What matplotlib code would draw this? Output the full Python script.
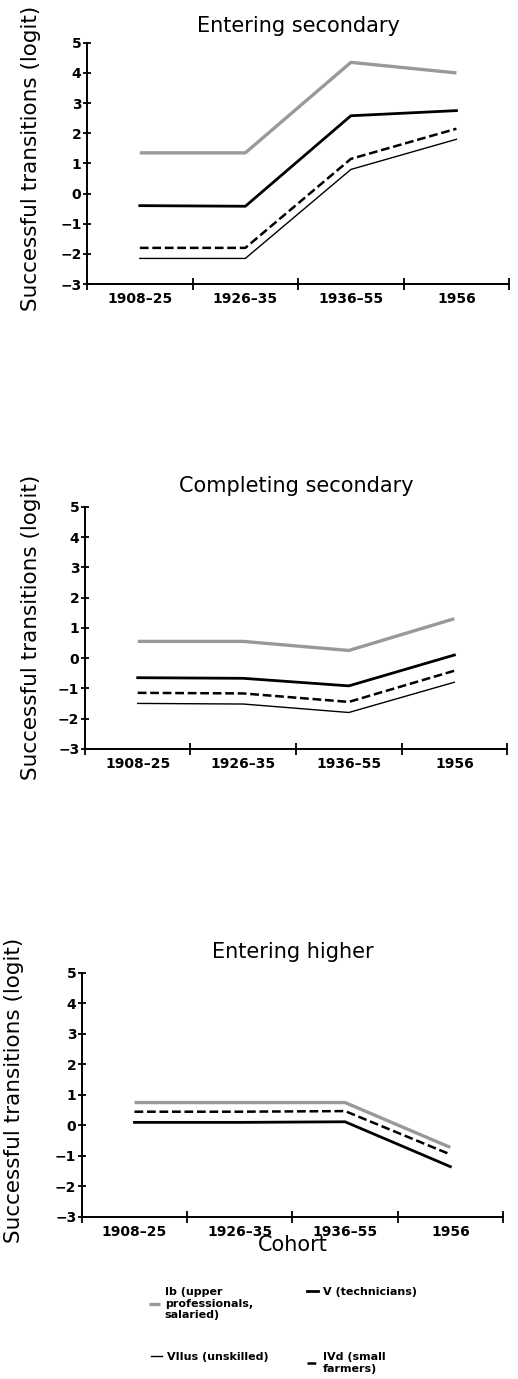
import matplotlib
matplotlib.use("Agg")
import matplotlib.pyplot as plt
from matplotlib.lines import Line2D

matplotlib.rcParams['font.family'] = 'DejaVu Sans'

# dữ liệu: logit theo cohort
COHORTS = ["1908–25", "1926–35", "1936–55", "1956"]
X_POS = [0.5, 1.5, 2.5, 3.5]

PANEL_TITLES = ["Entering secondary", "Completing secondary", "Entering higher"]

ib_vals = [
    [1.35, 1.35, 4.35, 4.00],
    [0.55, 0.55, 0.25, 1.30],
    [0.75, 0.75, 0.75, -0.72],
]
v_vals = [
    [-0.40, -0.42, 2.58, 2.75],
    [-0.65, -0.67, -0.92, 0.10],
    [0.10, 0.10, 0.12, -1.35],
]
ivd_vals = [
    [-1.80, -1.80, 1.15, 2.15],
    [-1.15, -1.17, -1.45, -0.42],
    [0.45, 0.45, 0.47, -0.95],
]
viius_vals = [
    [-2.15, -2.15, 0.80, 1.80],
    [-1.50, -1.52, -1.80, -0.80],
    None,  # không có trong panel 3
]

STYLE = {
    "ib": dict(color="#999999", lw=2.4, solid_capstyle="butt"),
    "v": dict(color="black", lw=2.0),
    "ivd": dict(color="black", lw=1.8, dashes=(3.5, 1.5)),
    "viius": dict(color="black", lw=1.0),
}

fig = plt.figure(figsize=(5.18, 13.79), dpi=100)

# vị trí các panel (figure fraction)
rects = [
    [0.168, 0.794, 0.815, 0.175],
    [0.164, 0.457, 0.815, 0.1755],
    [0.158, 0.1175, 0.813, 0.177],
]
title_pads = [8, 11, 10.5]
ylab_x = [-0.108, -0.104, -0.137]
ylab_y = [0.52, 0.5, 0.52]

for i, r in enumerate(rects):
    ax = fig.add_axes(r)
    ax.plot(X_POS, ib_vals[i], **STYLE["ib"])
    ax.plot(X_POS, v_vals[i], **STYLE["v"])
    ax.plot(X_POS, ivd_vals[i], **STYLE["ivd"])
    if viius_vals[i] is not None:
        ax.plot(X_POS, viius_vals[i], **STYLE["viius"])

    ax.set_xlim(0, 4)
    ax.set_ylim(-3, 5)
    for s in ["top", "right"]:
        ax.spines[s].set_visible(False)
    for s in ["left", "bottom"]:
        ax.spines[s].set_linewidth(1.4)

    ax.set_yticks(range(-3, 6))
    ax.set_yticklabels([str(v).replace("-", "−") for v in range(-3, 6)],
                       fontsize=10, fontweight="bold")
    ax.set_xticks([0, 1, 2, 3, 4])
    ax.set_xticklabels([])
    ax.set_xticks(X_POS, minor=True)
    ax.set_xticklabels(COHORTS, minor=True, fontsize=10, fontweight="bold")
    ax.tick_params(axis="y", direction="inout", length=6, width=1.3, pad=1)
    ax.tick_params(axis="x", which="major", direction="inout", length=8, width=1.3)
    ax.tick_params(axis="x", which="minor", length=0, pad=6)

    ax.set_title(PANEL_TITLES[i], fontsize=15, pad=title_pads[i])
    ax.set_ylabel("Successful transitions (logit)", fontsize=15.5)
    ax.yaxis.set_label_coords(ylab_x[i], ylab_y[i])
    if i == 2:
        ax.set_xlabel("Cohort", fontsize=15, labelpad=-3)

# chú thích
leg_items = [
    ("ib", "Ib (upper\nprofessionals,\nsalaried)", 0.288, 0.0665),
    ("v", "V (technicians)", 0.593, 0.0665),
    ("viius", "VIIus (unskilled)", 0.292, 0.0195),
    ("ivd", "IVd (small\nfarmers)", 0.593, 0.0195),
]
for key, lab, lx, ly in leg_items:
    st = dict(STYLE[key])
    lw = st.pop("lw")
    h = Line2D([], [], linewidth=lw, **st)
    fig.legend([h], [lab], loc="upper left", bbox_to_anchor=(lx, ly),
               frameon=False, borderpad=0, borderaxespad=0,
               handlelength=1.0, handletextpad=0.4, labelspacing=0.2,
               prop={"size": 8, "weight": "bold"})

plt.savefig("out.png", dpi=100)
